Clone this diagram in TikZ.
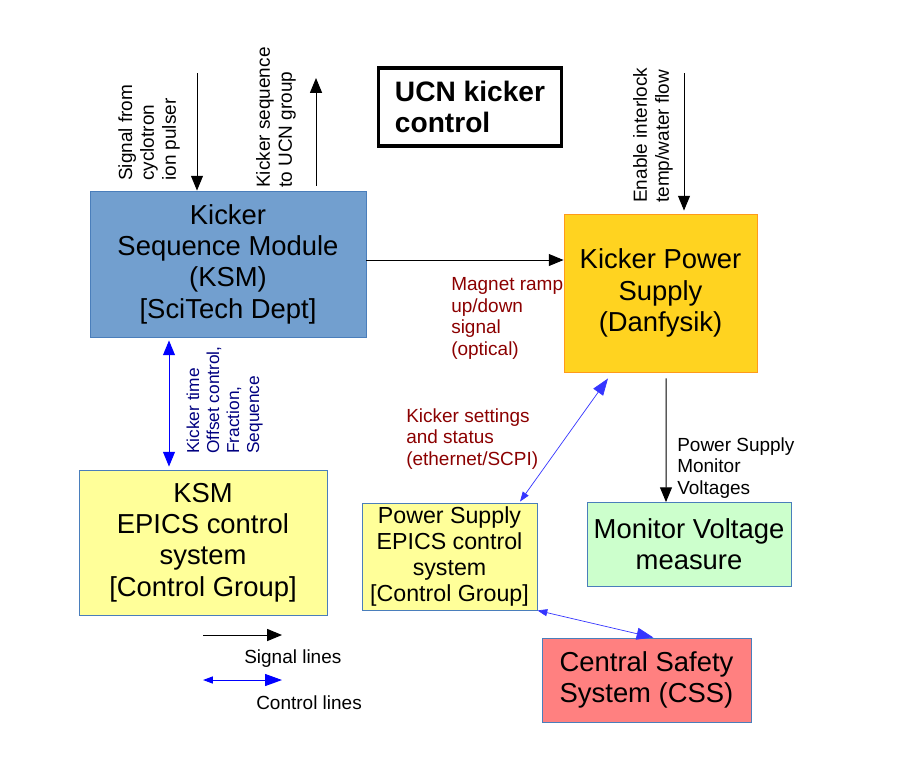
\documentclass[tikz,border=0pt]{standalone}
\usepackage{xcolor}
\usepackage{fontspec}
\setmainfont{Liberation Sans}
\usepackage{tikz}
\usetikzlibrary{calc}
\usetikzlibrary{arrows.meta}
\definecolor{ksmblue}{HTML}{729FCF}
\definecolor{boxedge}{HTML}{4A7EBB}
\definecolor{kpsgold}{HTML}{FFD320}
\definecolor{kpsedge}{HTML}{FF9A1A}
\definecolor{epicsyellow}{HTML}{FFFF99}
\definecolor{monitorgreen}{HTML}{CCFFCC}
\definecolor{csspink}{HTML}{FF8080}
\definecolor{labelred}{HTML}{8B0000}
\definecolor{labelnavy}{HTML}{000080}
\definecolor{ctlblue}{HTML}{3535FF}
\tikzset{
  box/.style={draw=boxedge, line width=.6pt, align=center, inner sep=0pt, font=\fontsize{19.5}{22.3}\selectfont},
  lbl/.style={align=left, inner sep=0pt, font=\fontsize{13.5}{15.5}\selectfont},
  sig/.style={black, line width=.7pt, -{Triangle[length=10.5pt,width=8.5pt]}},
  ctl/.style={blue, line width=.7pt, {Triangle[length=10.5pt,width=8.5pt]}-{Triangle[length=10.5pt,width=8.5pt]}},
  ctlthin/.style={ctlblue, line width=.5pt, {Triangle[length=7pt,width=5pt]}-{Triangle[length=12pt,width=8.5pt]}}
}

\begin{document}
\begin{tikzpicture}[x=0.025cm, y=-0.025cm]
\useasboundingbox (0,0) rectangle (899,765);
\node[draw, line width=2.2pt, minimum width=4.575cm, minimum height=1.95cm, align=left, inner sep=0pt, font=\bfseries\fontsize{20}{21.5}\selectfont] (title) at (470,107) {UCN kicker\\control};
\node[box, fill=ksmblue, minimum width=6.9cm, minimum height=3.65cm] (ksm) at (228,264) {Kicker\\Sequence Module\\(KSM)\\{[SciTech Dept]}};
\node[box, fill=kpsgold, draw=kpsedge, minimum width=4.825cm, minimum height=3.95cm] (kps) at (660.5,293) {Kicker Power\\Supply\\(Danfysik)};
\node[box, fill=epicsyellow, minimum width=6.2cm, minimum height=3.625cm] (ksmepics) at (203,542.5) {KSM\\EPICS control\\system\\{[Control Group]}};
\node[box, fill=epicsyellow, minimum width=4.375cm, minimum height=2.675cm, font=\fontsize{16.5}{18.3}\selectfont] (psepics) at (449.5,556.5) {Power Supply\\EPICS control\\system\\{[Control Group]}};
\node[box, fill=monitorgreen, minimum width=5.1cm, minimum height=2.1cm] (monitor) at (689,544.5) {Monitor Voltage\\measure};
\node[box, fill=csspink, minimum width=5.225cm, minimum height=2.1cm] (css) at (646.5,680) {Central Safety\\System (CSS)};

\coordinate (cyc) at (197,73);
\coordinate (ucn) at (316,78);
\coordinate (ilk) at (684,73);
\draw[sig] (cyc) -- (cyc |- ksm.north);
\draw[sig] ($(ucn |- ksm.north)+(0,-5)$) -- (ucn);
\draw[sig] (ilk) -- ($(ilk |- kps.north)+(0,-3)$);
\draw[sig] (ksm.east |- 0,260) -- (kps.west |- 0,260);
\draw[sig] ($(kps.south)+(5.5,6)$) -- (monitor.north -| 666,0);
\draw[ctl] ($(ksm.south)+(-59,3)$) -- ($(ksmepics.north)+(-34,-3)$);
\draw[ctlthin] ($(psepics.north)+(70.5,-1)$) -- ($(kps.south)+(-52.5,6)$);
\draw[ctlthin] (psepics.south east) -- ($(css.north)+(7,0)$);

\node[lbl, rotate=90, anchor=south west] (cyclbl) at (180,181) {Signal from\\cyclotron\\ion pulser};
\node[lbl, rotate=90, anchor=south west] (ucnlbl) at (296,188) {Kicker sequence\\to UCN group};
\node[lbl, rotate=90, anchor=south west] (ilklbl) at (673,203) {Enable interlock\\temp/water flow};
\node[lbl, rotate=90, anchor=south west, text=labelnavy, font=\fontsize{12.3}{14.2}\selectfont] (timelbl) at (263,454) {Kicker time\\Offset control,\\Fraction,\\Sequence};
\node[lbl, anchor=north west, text=labelred] (ramplbl) at (451,277) {Magnet ramp\\up/down\\signal\\(optical)};
\node[lbl, anchor=north west, text=labelred] (setlbl) at (406,408) {Kicker settings\\and status\\(ethernet/SCPI)};
\node[lbl, anchor=north west] (monlbl) at (677,437) {Power Supply\\Monitor\\Voltages};

\coordinate (sigA) at (203,635);
\coordinate (sigB) at (282,635);
\coordinate (ctlA) at (203,680);
\coordinate (ctlB) at (282,680);
\draw[sig] (sigA) -- (sigB);
\draw[ctlthin, blue, line width=.7pt] (ctlA) -- (ctlB);
\node[lbl, anchor=west] (siglbl) at (244,659) {Signal lines};
\node[lbl, anchor=west] (ctllbl) at (256,703) {Control lines};
\end{tikzpicture}
\end{document}
